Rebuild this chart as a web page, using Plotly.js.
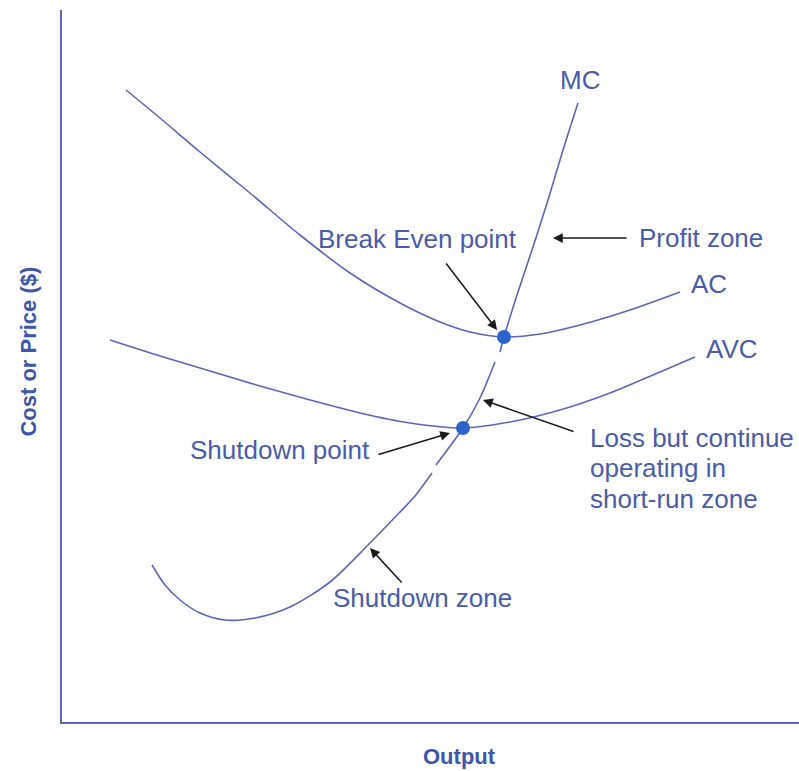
<!DOCTYPE html>
<html>
<head>
<meta charset="utf-8">
<script src="https://cdn.plot.ly/plotly-3.0.1.min.js"></script>
<style>
  body { margin: 0; background: #fff; }
  #chart { width: 799px; height: 771px; }
</style>
</head>
<body>
<div id="chart"></div>
<script>
// curves (output units across, cost units up)
const acX = [64, 98, 138, 188, 238, 288, 338, 378, 408, 442, 478, 518, 568, 618];
const acY = [632, 604, 570, 529, 487, 449, 419, 400, 390, 385, 388, 397, 412, 430];

const avcX = [48, 98, 148, 198, 248, 298, 348, 401, 448, 498, 548, 598, 633];
const avcY = [382, 366, 351, 336, 322, 309, 299, 294, 300, 312, 329, 350, 365];

// MC is drawn in three pieces with small breaks between them
const mcX = [90, 103, 118, 138, 163, 193, 228, 268, 306, 338, 353, 370, null,
             374, 401, 418, 433, null,
             438, 442, 455, 470, 486, 501, 516];
const mcY = [157, 137, 122, 109, 102, 104, 115, 140, 177, 210, 226, 249, null,
             257, 294, 324, 360, null,
             370, 385, 427, 472, 522, 572, 619];

// shutdown point, break even point
const dotX = [401, 442];
const dotY = [294, 385];

const lossLines = ['Loss but continue', 'operating in', 'short-run zone'];
const lossLineY = [284, 254, 223];

const lineBlue = '#5a67b8';
const textBlue = '#4a5ca8';
const fontFamily = 'Liberation Sans, Arial, sans-serif';

const curve = (x, y, name) => ({
  x: x, y: y, name: name,
  type: 'scatter', mode: 'lines',
  line: {color: lineBlue, width: 1.6, shape: 'spline', smoothing: 0.8},
  connectgaps: false,
  hoverinfo: 'skip'
});

const traces = [
  curve(acX, acY, 'AC'),
  curve(avcX, avcY, 'AVC'),
  curve(mcX, mcY, 'MC'),
  {
    x: dotX, y: dotY, type: 'scatter', mode: 'markers',
    marker: {color: '#2d62c8', size: 14},
    hoverinfo: 'skip'
  }
];

const label = (x, y, text, opts) => Object.assign({
  x: x, y: y, xref: 'x', yref: 'y', text: text, showarrow: false,
  font: {family: fontFamily, size: 26, color: textBlue}
}, opts || {});

const arrow = (x, y, ax, ay) => ({
  x: x, y: y, ax: ax, ay: ay, xref: 'x', yref: 'y', axref: 'x', ayref: 'y',
  text: '', showarrow: true, arrowhead: 2, arrowsize: 1.3, arrowwidth: 1.5,
  arrowcolor: '#1a1a1a'
});

const annotations = [
  label(518, 642, 'MC'),
  label(355, 483, 'Break Even point'),
  label(575, 484, 'Profit zone', {xanchor: 'left'}),
  label(647, 438, 'AC'),
  label(670, 373, 'AVC'),
  label(218, 272, 'Shutdown point'),
  label(360, 124, 'Shutdown zone'),

  arrow(435, 392, 383, 460),
  arrow(491, 484, 566, 484),
  arrow(388, 289, 315, 267),
  arrow(421, 322, 513, 290),
  arrow(308, 174, 341, 138),

  {
    x: 0.54, y: -0.049, xref: 'paper', yref: 'paper', showarrow: false,
    text: '<b>Output</b>', xanchor: 'center', yanchor: 'middle',
    font: {family: fontFamily, size: 22, color: '#3d56a6'}
  },
  {
    x: -0.045, y: 0.52, xref: 'paper', yref: 'paper', showarrow: false,
    text: '<b>Cost or Price ($)</b>', textangle: -90,
    xanchor: 'center', yanchor: 'middle',
    font: {family: fontFamily, size: 22, color: '#3d56a6'}
  }
];

lossLines.forEach((t, i) => {
  annotations.push(label(526, lossLineY[i], t, {xanchor: 'left'}));
});

const axisStyle = {
  showline: true, linecolor: lineBlue, linewidth: 2,
  showgrid: false, zeroline: false, showticklabels: false, ticks: '',
  fixedrange: true
};

const layout = {
  width: 799, height: 771,
  margin: {l: 62, r: 0, t: 10, b: 49},
  paper_bgcolor: '#ffffff', plot_bgcolor: '#ffffff',
  showlegend: false,
  xaxis: Object.assign({range: [0, 737]}, axisStyle),
  yaxis: Object.assign({range: [0, 712]}, axisStyle),
  annotations: annotations
};

Plotly.newPlot('chart', traces, layout, {staticPlot: true});
</script>
</body>
</html>
